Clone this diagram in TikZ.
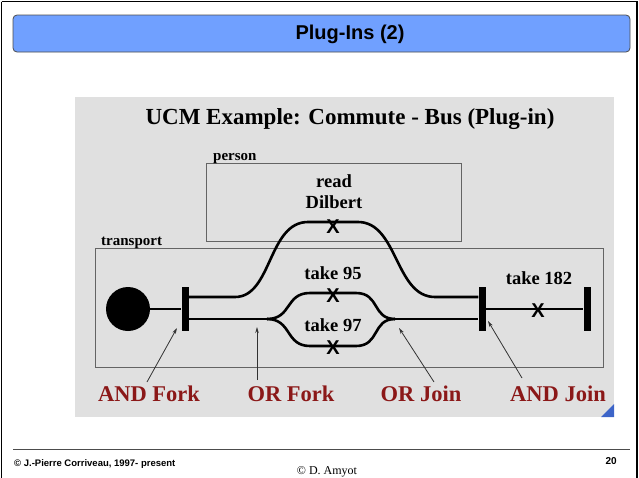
\documentclass[tikz,border=0pt]{standalone}
\usepackage{fontspec}
\setmainfont{Liberation Serif}
\newfontfamily\arialfont{Liberation Sans}
\usetikzlibrary{arrows.meta}
\definecolor{barblue}{RGB}{112,160,255}
\definecolor{panelgray}{RGB}{224,224,224}
\definecolor{boxgray}{RGB}{100,100,100}
\definecolor{labred}{RGB}{139,24,24}
\definecolor{arrgray}{RGB}{50,50,50}
\definecolor{cornerblue}{RGB}{60,100,200}
\tikzset{
  ucmline/.style={line width=2.6pt, black},
  barnode/.style={rectangle, fill=black, inner sep=0pt, minimum width=7pt, minimum height=44pt},
  xmark/.style={inner sep=0pt, font=\arialfont\fontsize{20}{20}\selectfont\bfseries},
  comptext/.style={inner sep=0pt, font=\fontsize{15}{15}\selectfont\bfseries},
  resptext/.style={inner sep=0pt, font=\fontsize{18.5}{21}\selectfont\bfseries, align=center},
  redlabel/.style={inner sep=0pt, text=labred, font=\fontsize{22.5}{22.5}\selectfont\bfseries},
  pointer/.style={arrgray, line width=0.8pt, -{Stealth[length=6pt,width=3.5pt]}},
  compbox/.style={draw=boxgray, line width=1pt}
}
\begin{document}
\begin{tikzpicture}[x=1pt,y=-1pt]
\useasboundingbox (0,0) rectangle (639,477);
% outer frame
\draw[line width=1.6pt] (1.5,1.5) -- (637,1.5) -- (637,490) (1.5,1.5) -- (1.5,490);
% title bar
\draw[draw=black!70, fill=barblue, rounded corners=4pt, line width=0.8pt] (13,15) rectangle (630,52);
\node[inner sep=0pt, font=\arialfont\fontsize{20}{20}\selectfont\bfseries] (title) at (350,34) {Plug-Ins (2)};
% gray panel
\fill[panelgray] (75,97) rectangle (614,417);
\fill[cornerblue] (614,404) -- (614,417) -- (601,417) -- cycle;
\node[inner sep=0pt, font=\fontsize{23}{23}\selectfont\bfseries] (subtitle) at (350,119) {UCM Example: Commute - Bus (Plug-in)};
% components
\draw[compbox] (206,163) rectangle (461,241);
\node[comptext, anchor=base west] (person) at (213,160) {person};
\draw[compbox] (95,248) rectangle (603,367);
\node[comptext, anchor=base west] (transport) at (101,245) {transport};
% start point and bars
\node[circle, fill=black, minimum size=44pt, inner sep=0pt] (start) at (128,309) {};
\node[barnode] (andfork) at (185,309) {};
\node[barnode] (andjoin) at (482,309) {};
\node[barnode] (endbar) at (587,309) {};
\coordinate (orfork) at (267,319);
\coordinate (orjoin) at (395,319);
% paths
\draw[ucmline] (start.east) -- (andfork.west);
\draw[ucmline] (andfork.east |- 0,297) -- (235,297) .. controls (272,297) and (268,222) .. (308,222) -- (358,222) .. controls (398,222) and (395,297) .. (435,297) -- (andjoin.west |- 0,297);
\draw[ucmline] (andfork.east |- 0,319) -- (orfork);
\draw[ucmline] (orfork) .. controls (292,319) and (285,293) .. (310,293) -- (356,293) .. controls (380,293) and (372,319) .. (orjoin);
\draw[ucmline] (orfork) .. controls (292,319) and (285,346) .. (310,346) -- (356,346) .. controls (380,346) and (372,319) .. (orjoin);
\draw[ucmline] (orjoin) -- (andjoin.west |- 0,319);
\draw[ucmline] (andjoin.east |- 0,309) -- (endbar.west |- 0,309);
% responsibilities
\node[xmark] (x1) at (333,227) {X};
\node[xmark] (x2) at (333,296) {X};
\node[xmark] (x3) at (333,348) {X};
\node[xmark] (x4) at (538,311) {X};
\node[resptext] (read) at (334,192) {read\\Dilbert};
\node[resptext] (t95) at (333,273) {take 95};
\node[resptext] (t97) at (333,325) {take 97};
\node[resptext] (t182) at (539,278) {take 182};
% labels
\node[redlabel] (lab1) at (149,394) {AND Fork};
\node[redlabel] (lab2) at (291,394) {OR Fork};
\node[redlabel] (lab3) at (421,394) {OR Join};
\node[redlabel] (lab4) at (558,394) {AND Join};
\coordinate (p1) at (177,328);
\coordinate (p2) at (257,327);
\coordinate (p3) at (399,328);
\coordinate (p4) at (488,321);
\draw[pointer] (147,382) -- (p1);
\draw[pointer] (257,380) -- (p2);
\draw[pointer] (434,382) -- (p3);
\draw[pointer] (522,378) -- (p4);
% footer
\draw[line width=0.7pt, black!70] (13,449) -- (630,449);
\node[inner sep=0pt, anchor=base west, font=\arialfont\fontsize{9.5}{9.5}\selectfont\bfseries] (copy1) at (14,466) {© J.-Pierre Corriveau, 1997- present};
\node[inner sep=0pt, anchor=base, font=\fontsize{12}{12}\selectfont] (copy2) at (327,474) {© D. Amyot};
\node[inner sep=0pt, anchor=base east, font=\arialfont\fontsize{10}{10}\selectfont\bfseries] (page) at (617,464) {20};
\end{tikzpicture}
\end{document}
